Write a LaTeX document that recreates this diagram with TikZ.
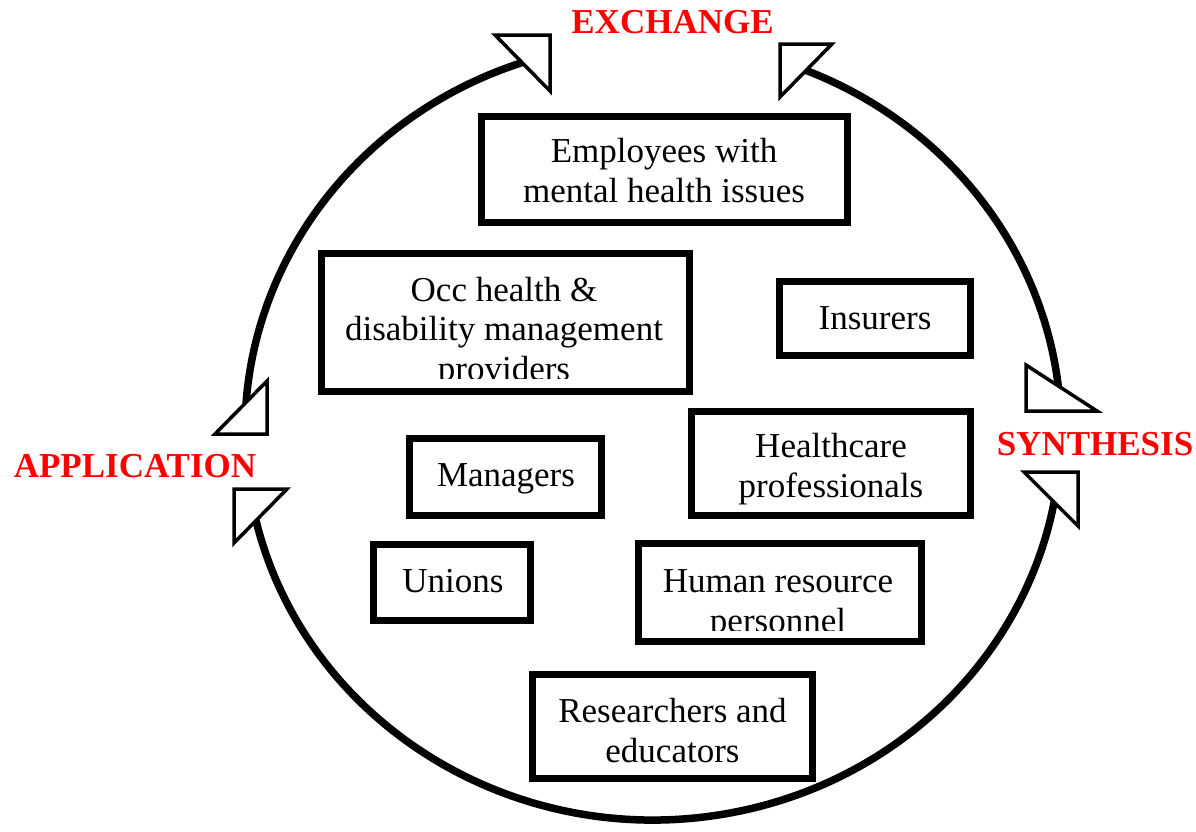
\documentclass[tikz,border=0pt]{standalone}
\usepackage{fontspec}
\setmainfont{Liberation Serif}
\begin{document}
\begin{tikzpicture}[x=1pt,y=1pt,
  boxst/.style={draw=black, line width=7pt, inner sep=0pt, outer sep=0pt},
  txt/.style={inner sep=0pt, anchor=base, font=\fontsize{35}{40}\selectfont},
  redlbl/.style={inner sep=0pt, anchor=base, text=red, font=\fontsize{35}{40}\selectfont\bfseries},
  arcst/.style={draw=black, line width=7.5pt},
  tri/.style={draw=black, fill=white, line width=3.5pt, line join=miter}]
\path[use as bounding box, fill=white] (0,0) rectangle (1196,-831);

% circle arcs
\draw[arcst] (653,-431) ++(107:408pt and 389pt) arc[start angle=107, end angle=176, x radius=408pt, y radius=389pt];
\draw[arcst] (653,-431) ++(192.5:408pt and 389pt) arc[start angle=192.5, end angle=350, x radius=408pt, y radius=389pt];
\draw[arcst] (653,-431) ++(6:408pt and 389pt) arc[start angle=6, end angle=69, x radius=408pt, y radius=389pt];

% arrowheads
\draw[tri] (495,-35) -- (550,-35) -- (550,-91) -- cycle;
\draw[tri] (780,-44) -- (832,-44) -- (780,-97) -- cycle;
\draw[tri] (267,-381) -- (267,-434) -- (215,-434) -- cycle;
\draw[tri] (234,-489) -- (287,-489) -- (234,-543) -- cycle;
\draw[tri] (1026,-365) -- (1026,-411) -- (1097,-411) -- cycle;
\draw[tri] (1024,-472) -- (1078,-472) -- (1078,-526) -- cycle;

% labels
\node[redlbl] (exch) at (672.5,-33) {EXCHANGE};
\node[redlbl] (appl) at (135,-477) {APPLICATION};
\node[redlbl] (synt) at (1095,-455) {SYNTHESIS};

% boxes
\node[boxst, minimum width=366pt, minimum height=106pt] (b1) at (664.5,-169.5) {};
\node[boxst, minimum width=368pt, minimum height=138pt] (b2) at (505.5,-322.5) {};
\node[boxst, minimum width=191pt, minimum height=74pt] (b3) at (875,-318.5) {};
\node[boxst, minimum width=192pt, minimum height=77pt] (b4) at (505.5,-477) {};
\node[boxst, minimum width=279pt, minimum height=104pt] (b5) at (831,-463.5) {};
\node[boxst, minimum width=157pt, minimum height=76pt] (b6) at (452,-582.5) {};
\node[boxst, minimum width=283pt, minimum height=98pt] (b7) at (780,-592.5) {};
\node[boxst, minimum width=280pt, minimum height=104pt] (b8) at (672.5,-726.5) {};

% texts
\node[txt] (t1a) at (664,-162) {Employees with};
\node[txt] (t1b) at (664,-202) {mental health issues};
\node[txt] (t2a) at (504,-301) {Occ health \&};
\node[txt] (t2b) at (504,-340) {disability management};
\begin{scope}
\clip (318,-250) rectangle (693,-378);
\node[txt] (t2c) at (504,-380) {providers};
\end{scope}
\node[txt] (t3) at (875,-329) {Insurers};
\node[txt] (t4) at (506,-486) {Managers};
\node[txt] (t5a) at (831,-457) {Healthcare};
\node[txt] (t5b) at (831,-497) {professionals};
\node[txt] (t6) at (453,-592) {Unions};
\node[txt] (t7a) at (778,-592) {Human resource};
\begin{scope}
\clip (635,-540) rectangle (925,-630);
\node[txt] (t7b) at (778,-632) {personnel};
\end{scope}
\node[txt] (t8a) at (672.5,-722) {Researchers and};
\node[txt] (t8b) at (672.5,-762) {educators};
\end{tikzpicture}
\end{document}
